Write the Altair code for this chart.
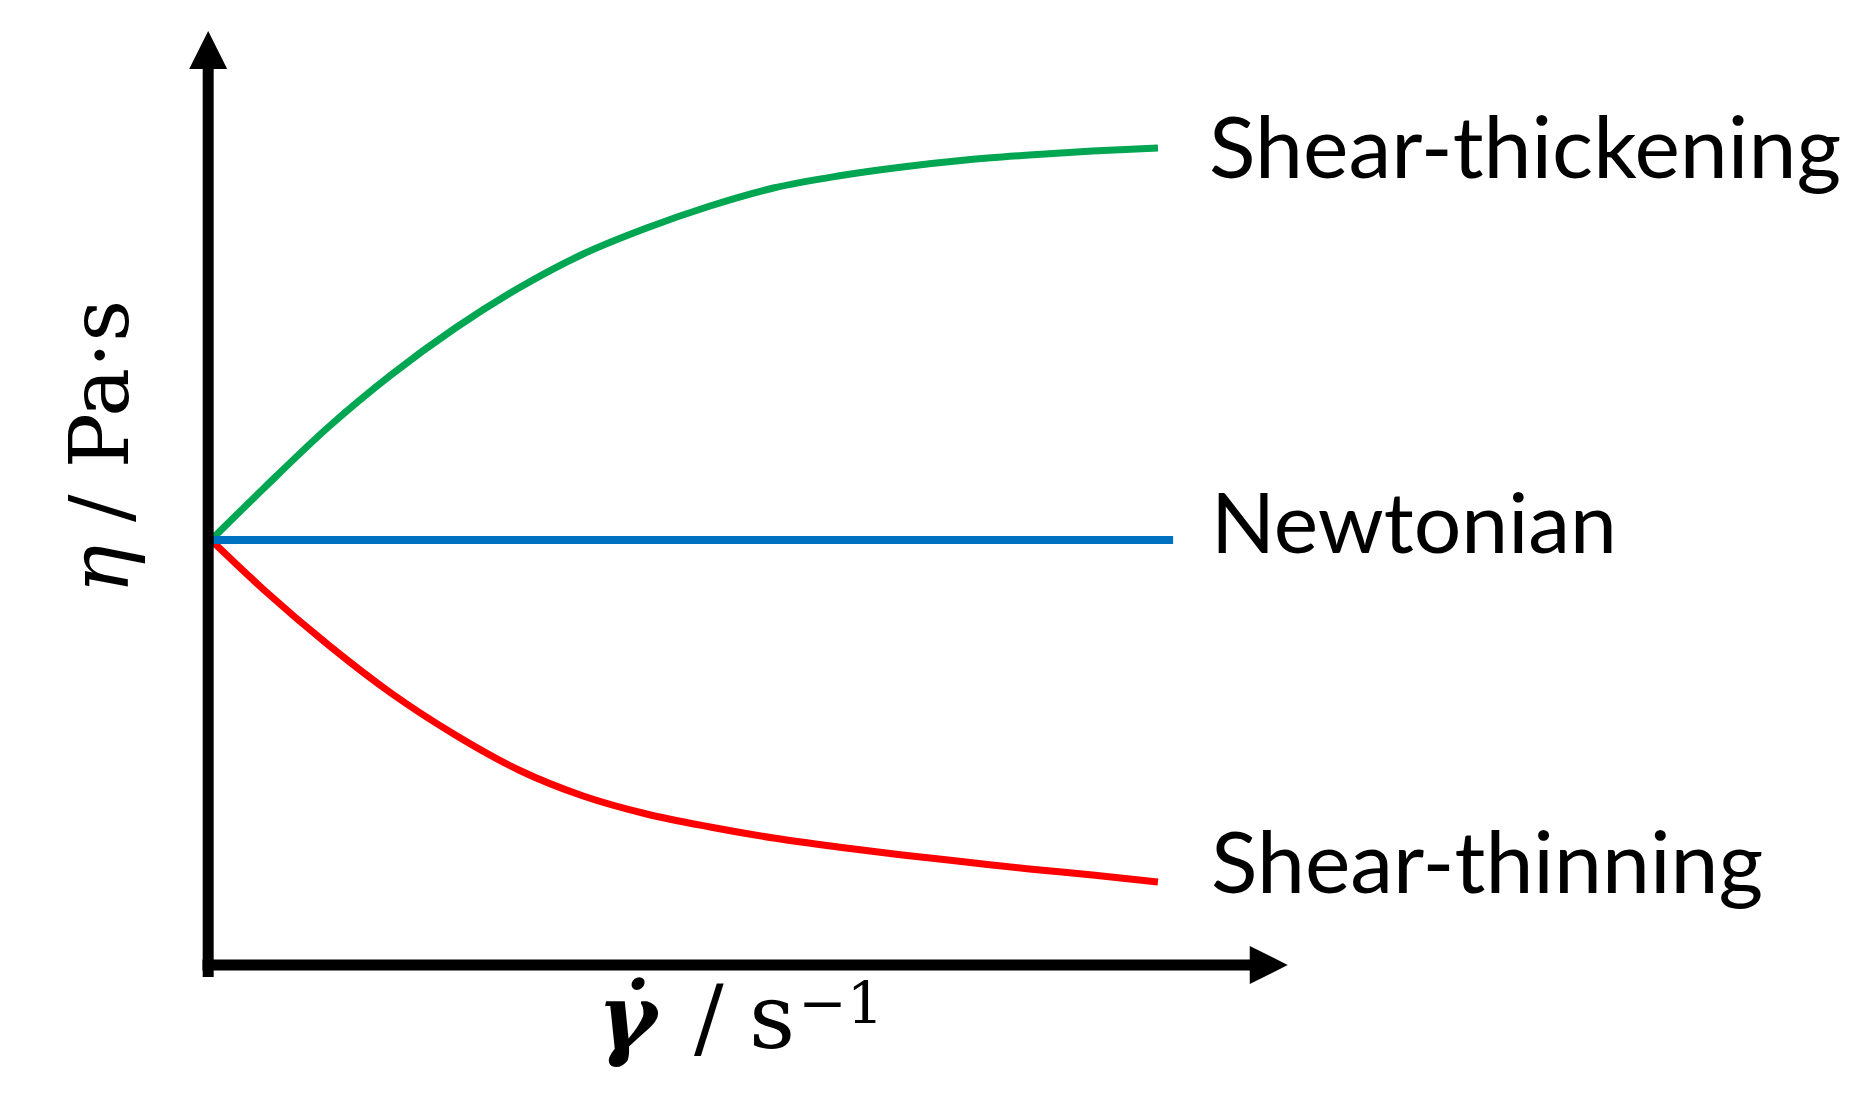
import altair as alt
import pandas as pd

# ---- data ----
thick_rate = [0.0, 0.56, 1.24, 1.90, 2.58, 3.25, 3.93, 4.60, 5.27, 5.94, 6.62, 7.30, 7.97, 8.64, 9.31, 10.0]
thick_eta = [4.28, 4.80, 5.41, 5.93, 6.40, 6.80, 7.14, 7.40, 7.62, 7.80, 7.92, 8.01, 8.08, 8.13, 8.17, 8.20]

thin_rate = [0.0, 0.56, 1.24, 1.90, 2.58, 3.25, 3.93, 4.60, 5.27, 5.94, 6.62, 7.30, 7.97, 8.64, 9.31, 10.0]
thin_eta = [4.28, 3.78, 3.23, 2.75, 2.33, 1.98, 1.72, 1.54, 1.41, 1.30, 1.21, 1.13, 1.06, 0.99, 0.93, 0.86]

newt_rate = [0.0, 10.16]
newt_eta = [4.28, 4.28]

label_text = ["Shear-thickening", "Newtonian", "Shear-thinning"]
label_rate = [10.54, 10.56, 10.56]
label_eta = [7.90, 4.15, 0.75]
label_size = [86, 84, 86]

# axis lines and arrows
yaxis_rate = [-0.03]
yaxis_eta = [-0.09]
yaxis_eta2 = [9.0]
xaxis_eta = [0.03]
xaxis_rate = [-0.09]
xaxis_rate2 = [10.99]
yarrow_rate = [-0.03]
yarrow_eta = [9.18]
xarrow_rate = [11.17]
xarrow_eta = [0.03]

# axis titles (pieces)
xtitle_text = ["γ̇", "/", "s", "−1"]
xtitle_rate = [4.08, 5.10, 5.68, 6.20]
xtitle_eta = [-0.80, -0.80, -0.80, -0.55]
xtitle_size = [90, 88, 90, 58]

ytitle_text = ["η", "/ Pa·s"]
ytitle_rate = [-0.88, -0.88]
ytitle_eta = [3.74, 4.46]

XMIN, XMAX = -2.144, 17.287
YMIN, YMAX = -1.35, 9.60
W, H = 1840, 1095

xs = alt.Scale(domain=[XMIN, XMAX], nice=False, zero=False)
ys = alt.Scale(domain=[YMIN, YMAX], nice=False, zero=False)


def X(f="x"):
    return alt.X(f"{f}:Q", scale=xs, axis=None)


def Y(f="y"):
    return alt.Y(f"{f}:Q", scale=ys, axis=None)


thick = alt.Chart(pd.DataFrame({"x": thick_rate, "y": thick_eta})).mark_line(
    color="#00A651", strokeWidth=7, interpolate="monotone").encode(x=X(), y=Y(), order="x:Q")
thin = alt.Chart(pd.DataFrame({"x": thin_rate, "y": thin_eta})).mark_line(
    color="#FF0000", strokeWidth=7, interpolate="monotone").encode(x=X(), y=Y(), order="x:Q")
newt = alt.Chart(pd.DataFrame({"x": newt_rate, "y": newt_eta})).mark_line(
    color="#0070C0", strokeWidth=8).encode(x=X(), y=Y())

yaxis = alt.Chart(pd.DataFrame({"x": yaxis_rate, "y": yaxis_eta, "y2": yaxis_eta2})).mark_rule(
    color="black", strokeWidth=11).encode(x=X(), y=Y(), y2="y2:Q")
xaxis = alt.Chart(pd.DataFrame({"y": xaxis_eta, "x": xaxis_rate, "x2": xaxis_rate2})).mark_rule(
    color="black", strokeWidth=11).encode(y=Y(), x=X(), x2="x2:Q")

yarrow = alt.Chart(pd.DataFrame({"x": yarrow_rate, "y": yarrow_eta})).mark_point(
    shape="M0,-1L1,1L-1,1Z", filled=True, size=1444, color="black", opacity=1, strokeWidth=0
).encode(x=X(), y=Y())
xarrow = alt.Chart(pd.DataFrame({"x": xarrow_rate, "y": xarrow_eta})).mark_point(
    shape="M1,0L-1,-1L-1,1Z", filled=True, size=1444, color="black", opacity=1, strokeWidth=0
).encode(x=X(), y=Y())

labels = alt.Chart(pd.DataFrame({"x": label_rate, "y": label_eta, "t": label_text, "s": label_size})).mark_text(
    align="left", baseline="alphabetic", font="Lato", color="black"
).encode(x=X(), y=Y(), text="t:N", size=alt.Size("s:Q", scale=None, legend=None))

xt_df = pd.DataFrame({"x": xtitle_rate, "y": xtitle_eta, "t": xtitle_text, "s": xtitle_size})
xt1 = alt.Chart(xt_df.iloc[[0]]).mark_text(
    align="left", baseline="alphabetic", font="DejaVu Serif",
    fontStyle="italic", fontWeight="bold", color="black"
).encode(x=X(), y=Y(), text="t:N", size=alt.Size("s:Q", scale=None, legend=None))
xt2 = alt.Chart(xt_df.iloc[[1, 2, 3]]).mark_text(
    align="left", baseline="alphabetic", font="DejaVu Serif", color="black"
).encode(x=X(), y=Y(), text="t:N", size=alt.Size("s:Q", scale=None, legend=None))

yt_df = pd.DataFrame({"x": ytitle_rate, "y": ytitle_eta, "t": ytitle_text})
yt1 = alt.Chart(yt_df.iloc[[0]]).mark_text(
    align="left", baseline="alphabetic", angle=270, font="DejaVu Serif", fontSize=82,
    fontStyle="italic", color="black").encode(x=X(), y=Y(), text="t:N")
yt2 = alt.Chart(yt_df.iloc[[1]]).mark_text(
    align="left", baseline="alphabetic", angle=270, font="DejaVu Serif", fontSize=82,
    color="black").encode(x=X(), y=Y(), text="t:N")

chart = alt.layer(
    thick, thin, newt, yaxis, xaxis, yarrow, xarrow, labels, xt1, xt2, yt1, yt2
).properties(
    width=W, height=H, padding=0, autosize=alt.AutoSizeParams(type="none"), background="white"
).configure_view(stroke=None)

chart.save("out.html", embed_options={"renderer": "svg", "actions": False})
